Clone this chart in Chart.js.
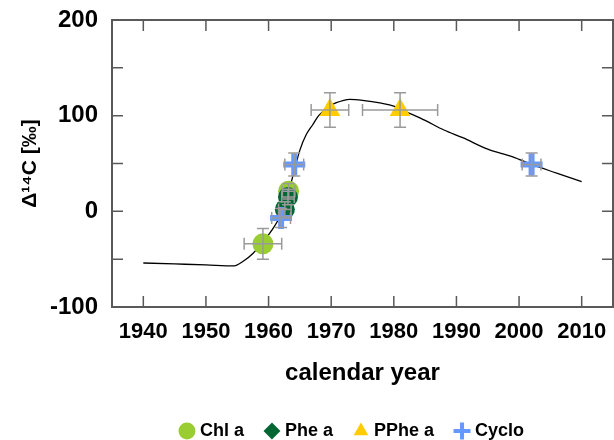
<!DOCTYPE html>
<html>
<head>
<meta charset="utf-8">
<script src="https://cdn.jsdelivr.net/npm/chart.js@4.4.1/dist/chart.umd.min.js"></script>
<style>
html, body { margin: 0; padding: 0; background: #fff; overflow: hidden; }
#chartBox { display: block; }
</style>
</head>
<body>
<canvas id="chartBox" width="614" height="440"></canvas>
<script>
// atmospheric bomb curve
const curveYears = [1940, 1945, 1950, 1954.5, 1956, 1957.5, 1959, 1960.5, 1962, 1963, 1964, 1965, 1966, 1967, 1968, 1970, 1972, 1973, 1975, 1978, 1980, 1982, 1985, 1988, 1991, 1995, 1999, 2002, 2006, 2010]
const curveValues = [-54, -55, -56, -57, -52, -44, -33, -20, -3, 15, 40, 64, 80, 90, 100, 111, 116, 117, 116, 113, 110, 104, 95, 85, 77, 65, 57, 49, 40, 31]

const chlYears = [1959.1, 1963.2]
const chlValues = [-34, 21]
const chlErrX = [3, 1]
const chlErrY = [16, 8]

const pheYears = [1963.1, 1962.6]
const pheValues = [15, 2]
const pheErrX = [1, 1]
const pheErrY = [8, 8]

const ppheYears = [1969.8, 1981]
const ppheValues = [106, 106]
const ppheErrX = [3, 6]
const ppheErrY = [18, 18]

const cycloYears = [1964.1, 1962, 2002]
const cycloValues = [49, -7, 49]
const cycloErrX = [1.5, 1.5, 1.5]
const cycloErrY = [12, 10, 12]

const xTicks = [1940, 1950, 1960, 1970, 1980, 1990, 2000, 2010]

const FONT = "'Liberation Sans', Arial, sans-serif"
const toPoints = (xs, ys) => xs.map((v, i) => ({ x: v, y: ys[i] }))

const errorBars = {
    id: 'errorBars',
    afterDatasetsDraw(chart) {
        const { ctx, scales: { x, y } } = chart
        ctx.save()
        ctx.strokeStyle = '#9a9a9a'
        ctx.lineWidth = 1.5
        chart.data.datasets.forEach(ds => {
            if (!ds.errX) return
            ds.data.forEach((p, i) => {
                const px = x.getPixelForValue(p.x)
                const py = y.getPixelForValue(p.y)
                const x0 = x.getPixelForValue(p.x - ds.errX[i])
                const x1 = x.getPixelForValue(p.x + ds.errX[i])
                const y0 = y.getPixelForValue(p.y - ds.errY[i])
                const y1 = y.getPixelForValue(p.y + ds.errY[i])
                const c = 6
                ctx.beginPath()
                ctx.moveTo(x0, py); ctx.lineTo(x1, py)
                ctx.moveTo(x0, py - c); ctx.lineTo(x0, py + c)
                ctx.moveTo(x1, py - c); ctx.lineTo(x1, py + c)
                ctx.moveTo(px, y0); ctx.lineTo(px, y1)
                ctx.moveTo(px - c, y0); ctx.lineTo(px + c, y0)
                ctx.moveTo(px - c, y1); ctx.lineTo(px + c, y1)
                ctx.stroke()
            })
        })
        ctx.restore()
    }
}

const frameTicks = {
    id: 'frameTicks',
    afterDraw(chart) {
        const { ctx, chartArea: a, scales: { x, y } } = chart
        ctx.save()
        ctx.strokeStyle = '#595959'
        ctx.lineWidth = 2
        ctx.strokeRect(a.left, a.top, a.right - a.left, a.bottom - a.top)
        ctx.lineWidth = 1.5
        ctx.beginPath()
        x.ticks.forEach(t => {
            const px = x.getPixelForValue(t.value)
            ctx.moveTo(px, a.bottom); ctx.lineTo(px, a.bottom - 11)
            ctx.moveTo(px, a.top); ctx.lineTo(px, a.top + 11)
        })
        y.ticks.forEach(t => {
            const py = y.getPixelForValue(t.value)
            ctx.moveTo(a.left, py); ctx.lineTo(a.left + 11, py)
            ctx.moveTo(a.right, py); ctx.lineTo(a.right - 11, py)
        })
        ctx.stroke()
        ctx.restore()
    }
}

// nudge the legend to where the original sits
const legendShift = {
    id: 'legendShift',
    afterLayout(chart) {
        const l = chart.legend
        l.left += 47; l.right += 47
        l.top += 10; l.bottom += 10
    }
}

const legendItems = [
    { text: 'Chl a', pointStyle: 'circle', fillStyle: '#9acd32', strokeStyle: '#9acd32', lineWidth: 0 },
    { text: 'Phe a', pointStyle: 'rectRot', fillStyle: '#006633', strokeStyle: '#006633', lineWidth: 0 },
    { text: 'PPhe a', pointStyle: 'triangle', fillStyle: '#ffcc00', strokeStyle: '#ffcc00', lineWidth: 0 },
    { text: 'Cyclo', pointStyle: 'cross', fillStyle: '#6699ff', strokeStyle: '#6699ff', lineWidth: 4 }
]

const context = document.querySelector('#chartBox').getContext('2d')
const chart = new Chart(context, {
    type: 'scatter',
    data: {
        datasets: [{
            label: 'curve',
            data: toPoints(curveYears, curveValues),
            showLine: true,
            borderColor: '#000',
            borderWidth: 1.3,
            pointRadius: 0,
            cubicInterpolationMode: 'monotone',
            order: 5
        }, {
            label: 'Chl a',
            data: toPoints(chlYears, chlValues),
            errX: chlErrX, errY: chlErrY,
            backgroundColor: '#9acd32',
            borderWidth: 0,
            pointRadius: 10.5,
            order: 4
        }, {
            label: 'Phe a',
            data: toPoints(pheYears, pheValues),
            errX: pheErrX, errY: pheErrY,
            backgroundColor: '#006633',
            borderWidth: 0,
            pointRadius: 10,
            order: 3
        }, {
            label: 'PPhe a',
            data: toPoints(ppheYears, ppheValues),
            errX: ppheErrX, errY: ppheErrY,
            pointStyle: 'triangle',
            backgroundColor: '#ffcc00',
            borderColor: '#ffcc00',
            borderWidth: 0,
            pointRadius: 12,
            order: 2
        }, {
            label: 'Cyclo',
            data: toPoints(cycloYears, cycloValues),
            errX: cycloErrX, errY: cycloErrY,
            pointStyle: 'cross',
            borderColor: '#6699ff',
            backgroundColor: '#6699ff',
            borderWidth: 6,
            pointRadius: 11,
            order: 1
        }]
    },
    options: {
        responsive: false,
        animation: false,
        layout: { autoPadding: false, padding: { top: 20, right: 1, left: 0, bottom: 0 } },
        plugins: {
            tooltip: { enabled: false },
            legend: {
                position: 'bottom',
                labels: {
                    usePointStyle: true,
                    boxWidth: 8,
                    boxHeight: 12,
                    padding: 24,
                    color: '#000',
                    font: { family: FONT, size: 18, weight: 'bold' },
                    generateLabels: () => legendItems.map((it, i) => ({
                        ...it, hidden: false, datasetIndex: i + 1, fontColor: '#000'
                    }))
                }
            }
        },
        scales: {
            x: {
                type: 'linear',
                min: 1935,
                max: 2015,
                afterBuildTicks: scale => { scale.ticks = xTicks.map(v => ({ value: v })) },
                afterFit: scale => {
                    scale.height = 81
                    scale.paddingLeft = 0
                    scale.paddingRight = 0
                },
                grid: { display: false, drawTicks: false },
                border: { display: false },
                ticks: {
                    color: '#000',
                    padding: 12,
                    maxRotation: 0,
                    font: { family: FONT, size: 22, weight: 'bold' },
                    callback: v => String(v)
                },
                title: {
                    display: true,
                    text: 'calendar year',
                    color: '#000',
                    padding: { top: 0, bottom: 0 },
                    font: { family: FONT, size: 24, weight: 'bold' }
                }
            },
            y: {
                min: -100,
                max: 200,
                afterFit: scale => {
                    scale.width = 112
                    scale.paddingTop = 0
                    scale.paddingBottom = 0
                },
                grid: { display: false, drawTicks: false },
                border: { display: false },
                ticks: {
                    stepSize: 50,
                    color: '#000',
                    padding: 14,
                    font: { family: FONT, size: 24, weight: 'bold' },
                    callback: v => (v % 100 === 0 ? String(v) : '')
                },
                title: {
                    display: true,
                    text: 'Δ¹⁴C [‰]',
                    color: '#000',
                    padding: { top: 18, bottom: 0 },
                    font: { family: FONT, size: 21, weight: 'bold' }
                }
            }
        }
    },
    plugins: [errorBars, frameTicks, legendShift]
})
</script>
</body>
</html>
